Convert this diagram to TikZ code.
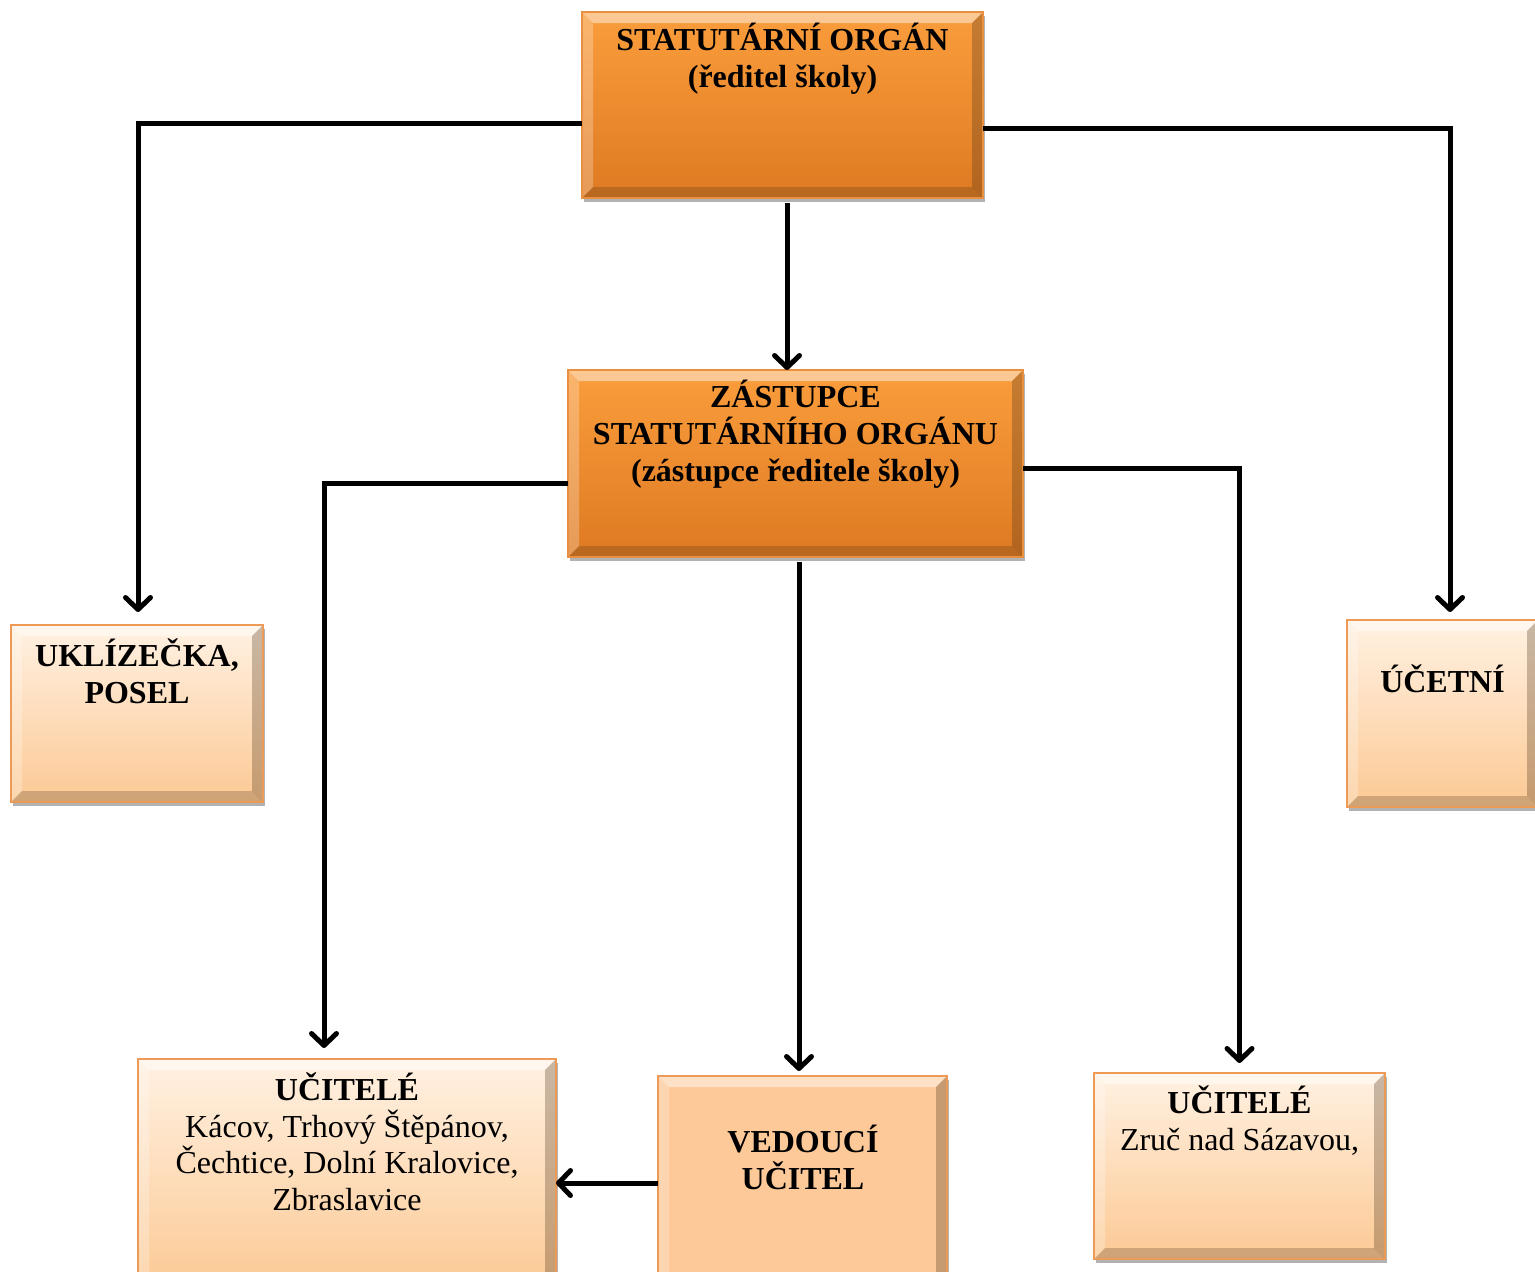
\documentclass[tikz,border=0pt]{standalone}
\usepackage{fontspec}
\setmainfont{Liberation Serif}
\usetikzlibrary{arrows.meta,shadows,calc}
\definecolor{oTop}{HTML}{FA9D3C}
\definecolor{oBot}{HTML}{DE7A22}
\definecolor{lTop}{HTML}{FFF1E2}
\definecolor{lBot}{HTML}{FCC994}
\definecolor{vFill}{HTML}{FDC998}
\definecolor{oEdge}{HTML}{E8903F}
\definecolor{lEdge}{HTML}{EC9A55}
\tikzset{
  bevel/.style={path picture={
    \path (path picture bounding box.north west) coordinate (bnw)
          (path picture bounding box.north east) coordinate (bne)
          (path picture bounding box.south west) coordinate (bsw)
          (path picture bounding box.south east) coordinate (bse);
    \fill[white,opacity=0.45] (bnw) -- (bne) -- ([shift={(-11pt,-11pt)}]bne) -- ([shift={(11pt,-11pt)}]bnw) -- cycle;
    \fill[white,opacity=0.25] (bnw) -- ([shift={(11pt,-11pt)}]bnw) -- ([shift={(11pt,11pt)}]bsw) -- (bsw) -- cycle;
    \fill[black!60!brown,opacity=0.3] (bne) -- (bse) -- ([shift={(-11pt,11pt)}]bse) -- ([shift={(-11pt,-11pt)}]bne) -- cycle;
    \fill[black!60!brown,opacity=0.25] (bsw) -- (bse) -- ([shift={(-11pt,11pt)}]bse) -- ([shift={(11pt,11pt)}]bsw) -- cycle;
  }},
  box/.style={rectangle, inner sep=0pt, outer sep=0pt, line width=1.5pt, bevel,
    drop shadow={shadow xshift=2pt, shadow yshift=-4pt, opacity=0.3, fill=black}},
  obox/.style={box, draw=oEdge, top color=oTop, bottom color=oBot},
  lbox/.style={box, draw=lEdge, top color=lTop, bottom color=lBot},
  vbox/.style={box, draw=lEdge, fill=vFill},
  txt/.style={align=center, font=\fontsize{32}{37}\selectfont, inner sep=0pt, anchor=base},
  arr/.style={line width=5pt, -{Straight Barb[length=12pt,width=25pt,round]}}
}
\begin{document}
\begin{tikzpicture}[x=1pt,y=-1pt]
\clip (0,0) rectangle (1535,1272);
\fill[white] (0,0) rectangle (1535,1272);

% boxes
\node[obox, minimum width=401pt, minimum height=186pt] (top) at (782.5,105) {};
\node[obox, minimum width=455pt, minimum height=187pt] (mid) at (795.5,463.5) {};
\node[lbox, minimum width=252pt, minimum height=177pt] (ukl) at (137,713.5) {};
\node[lbox, minimum width=191pt, minimum height=187pt] (ucet) at (1442.5,713.5) {};
\node[lbox, minimum width=418pt, minimum height=231pt] (ucl) at (347,1174.5) {};
\node[vbox, minimum width=289pt, minimum height=214pt] (ved) at (802.5,1183) {};
\node[lbox, minimum width=291pt, minimum height=186pt] (ucr) at (1239.5,1166) {};

% texts (anchor = baseline of last line)
\node[txt] (topt) at (782.5,87) {\bfseries STATUTÁRNÍ ORGÁN\\\bfseries (ředitel školy)};
\node[txt] (midt) at (795.5,481) {\bfseries ZÁSTUPCE\\\bfseries STATUTÁRNÍHO ORGÁNU\\\bfseries (zástupce ředitele školy)};
\node[txt] (uklt) at (137,703) {\bfseries UKLÍZEČKA,\\\bfseries POSEL};
\node[txt] (ucett) at (1442.5,692) {\bfseries ÚČETNÍ};
\node[txt, font=\fontsize{32}{36.5}\selectfont] (uclt) at (347,1210) {\bfseries UČITELÉ\\Kácov, Trhový Štěpánov,\\Čechtice, Dolní Kralovice,\\Zbraslavice};
\node[txt] (vedt) at (803,1189) {\bfseries VEDOUCÍ\\\bfseries UČITEL};
\node[txt] (ucrt) at (1239.5,1150) {\bfseries UČITELÉ\\Zruč nad Sázavou,};

% connectors
\draw[arr] ([yshift=-18pt]top.west) -| ([xshift=1pt,yshift=13pt]ukl.north);
\draw[arr] ([yshift=-23pt]top.east) -| ([xshift=7.5pt,yshift=8pt]ucet.north);
\draw[arr, shorten >=5pt] ([xshift=4.5pt,yshift=-5pt]top.south) -- ([xshift=4.5pt,yshift=-5pt]top.south |- mid.north);
\draw[arr] ([yshift=-19.5pt]mid.west) -| ([xshift=-23pt,yshift=11pt]ucl.north);
\draw[arr] ([yshift=-4.5pt]mid.east) -| ([yshift=10pt]ucr.north);
\draw[arr, shorten >=10pt] ([xshift=3.5pt,yshift=-5pt]mid.south) -- ([xshift=3.5pt,yshift=-5pt]mid.south |- ved.north);
\draw[arr] (ved.west) -- (ved.west -| ucl.east);
\end{tikzpicture}
\end{document}
